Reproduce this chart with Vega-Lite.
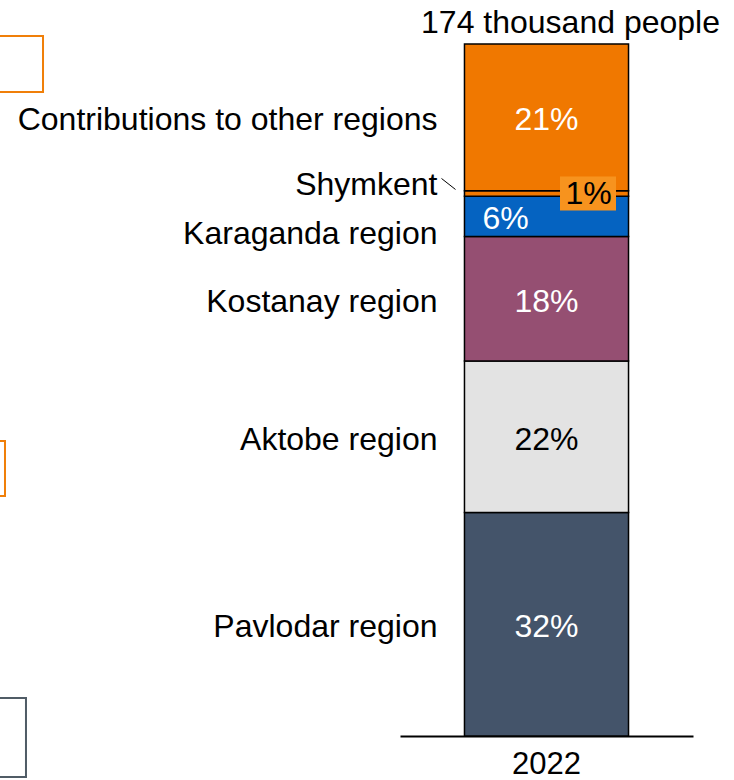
{
  "$schema": "https://vega.github.io/schema/vega-lite/v6.json",
  "width": 734,
  "height": 736,
  "autosize": "none",
  "padding": {"left": 0, "top": 0, "right": 0, "bottom": 44},
  "background": "white",
  "config": {
    "view": {"stroke": null},
    "font": "Liberation Sans",
    "text": {"font": "Liberation Sans", "fontSize": 32}
  },
  "datasets": {
    "regions": [
      {"year": "2022", "region": "Pavlodar region", "rank": 1, "value": 32.3, "label": "32%"},
      {"year": "2022", "region": "Aktobe region", "rank": 2, "value": 21.9, "label": "22%"},
      {"year": "2022", "region": "Kostanay region", "rank": 3, "value": 18.0, "label": "18%"},
      {"year": "2022", "region": "Karaganda region", "rank": 4, "value": 5.8, "label": "6%"},
      {"year": "2022", "region": "Shymkent", "rank": 5, "value": 0.8, "label": "1%"},
      {"year": "2022", "region": "Contributions to other regions", "rank": 6, "value": 21.2, "label": "21%"}
    ],
    "total": [
      {"year": "2022", "total": 100, "label": "174 thousand people"}
    ],
    "frames": [
      {"x0": -5, "x1": 5.86, "y0": 93.06, "y1": 101.16, "kind": "orange"},
      {"x0": -5, "x1": 0.68, "y0": 34.68, "y1": 42.63, "kind": "orange"},
      {"x0": -5, "x1": 3.54, "y0": -5.92, "y1": 5.49, "kind": "gray"}
    ]
  },
  "resolve": {"scale": {"x": "independent"}},
  "layer": [
    {
      "data": {"name": "frames"},
      "mark": {"type": "rect", "fill": null, "strokeWidth": 2},
      "encoding": {
        "x": {"field": "x0", "type": "quantitative", "scale": {"domain": [0, 100], "nice": false, "zero": false}, "axis": null},
        "x2": {"field": "x1"},
        "y": {"field": "y0", "type": "quantitative", "scale": {"domain": [0, 106.36], "nice": false, "zero": false}, "axis": null},
        "y2": {"field": "y1"},
        "stroke": {"field": "kind", "type": "nominal", "scale": {"domain": ["orange", "gray"], "range": ["#F07F09", "#505C66"]}, "legend": null}
      }
    },
    {
      "data": {"name": "regions"},
      "transform": [
        {"stack": "value", "groupby": ["year"], "sort": [{"field": "rank", "order": "ascending"}], "as": ["y0", "y1"]},
        {"calculate": "(datum.y0 + datum.y1) / 2", "as": "mid"}
      ],
      "encoding": {
        "x": {
          "field": "year", "type": "nominal",
          "scale": {"range": [400, 693], "paddingInner": 0, "paddingOuter": 0.393},
          "axis": {
            "title": null, "domain": true, "domainColor": "#000000", "domainWidth": 2,
            "ticks": false, "labelFontSize": 31, "labelColor": "#000000", "labelAngle": 0,
            "labelPadding": 13, "labelFont": "Liberation Sans"
          }
        }
      },
      "layer": [
        {
          "mark": {"type": "bar", "stroke": "#000000", "strokeWidth": 1.5},
          "encoding": {
            "y": {"field": "y0", "type": "quantitative", "scale": {"domain": [0, 106.36], "nice": false, "zero": false}, "axis": null},
            "y2": {"field": "y1"},
            "color": {
              "field": "region", "type": "nominal", "legend": null,
              "scale": {
                "domain": ["Pavlodar region", "Aktobe region", "Kostanay region", "Karaganda region", "Shymkent", "Contributions to other regions"],
                "range": ["#44546A", "#E3E3E3", "#954F72", "#0563C1", "#F07800", "#F07800"]
              }
            }
          }
        },
        {
          "transform": [{"filter": "datum.region !== 'Shymkent' && datum.region !== 'Karaganda region'"}],
          "mark": {"type": "text", "baseline": "middle", "align": "center", "fontSize": 32, "dy": 3},
          "encoding": {
            "y": {"field": "mid", "type": "quantitative"},
            "text": {"field": "label"},
            "color": {"condition": {"test": "datum.region === 'Aktobe region'", "value": "#000000"}, "value": "#FFFFFF"}
          }
        },
        {
          "transform": [{"filter": "datum.region === 'Karaganda region'"}],
          "mark": {"type": "text", "baseline": "middle", "align": "center", "fontSize": 32, "dx": -41, "dy": 3, "color": "#FFFFFF"},
          "encoding": {
            "y": {"field": "mid", "type": "quantitative"},
            "text": {"field": "label"}
          }
        },
        {
          "transform": [{"filter": "datum.region === 'Shymkent'"}],
          "mark": {"type": "bar", "fill": "#F7931E", "width": 56, "xOffset": 41.5, "yOffset": 17, "y2Offset": -17},
          "encoding": {
            "y": {"field": "mid", "type": "quantitative"},
            "y2": {"field": "mid"}
          }
        },
        {
          "transform": [{"filter": "datum.region === 'Shymkent'"}],
          "mark": {"type": "text", "baseline": "middle", "align": "center", "fontSize": 32, "dx": 42, "dy": 1, "color": "#000000"},
          "encoding": {
            "y": {"field": "mid", "type": "quantitative"},
            "text": {"field": "label"}
          }
        },
        {
          "transform": [{"filter": "datum.region !== 'Shymkent' && datum.region !== 'Karaganda region'"}],
          "mark": {"type": "text", "baseline": "middle", "align": "right", "fontSize": 32, "dx": -109, "dy": 3, "color": "#000000"},
          "encoding": {
            "y": {"field": "mid", "type": "quantitative"},
            "text": {"field": "region"}
          }
        },
        {
          "transform": [{"filter": "datum.region === 'Karaganda region'"}],
          "mark": {"type": "text", "baseline": "middle", "align": "right", "fontSize": 32, "dx": -109, "dy": 18, "color": "#000000"},
          "encoding": {
            "y": {"field": "mid", "type": "quantitative"},
            "text": {"field": "region"}
          }
        },
        {
          "transform": [{"filter": "datum.region === 'Shymkent'"}],
          "mark": {"type": "text", "baseline": "middle", "align": "right", "fontSize": 32, "dx": -109, "dy": -8, "color": "#000000"},
          "encoding": {
            "y": {"field": "mid", "type": "quantitative"},
            "text": {"field": "region"}
          }
        },
        {
          "transform": [{"filter": "datum.region === 'Shymkent'"}],
          "mark": {"type": "rule", "color": "#000000", "strokeWidth": 1, "xOffset": -105, "x2Offset": -91, "yOffset": -15, "y2Offset": -4},
          "encoding": {
            "x": {"field": "year", "type": "nominal", "bandPosition": 0.5},
            "x2": {"field": "year", "bandPosition": 0.5},
            "y": {"field": "mid", "type": "quantitative"},
            "y2": {"field": "mid"}
          }
        },
        {
          "data": {"name": "total"},
          "mark": {"type": "text", "baseline": "middle", "align": "center", "fontSize": 32, "dx": 24, "dy": -21, "color": "#000000"},
          "encoding": {
            "y": {"field": "total", "type": "quantitative"},
            "text": {"field": "label"}
          }
        }
      ]
    }
  ]
}
